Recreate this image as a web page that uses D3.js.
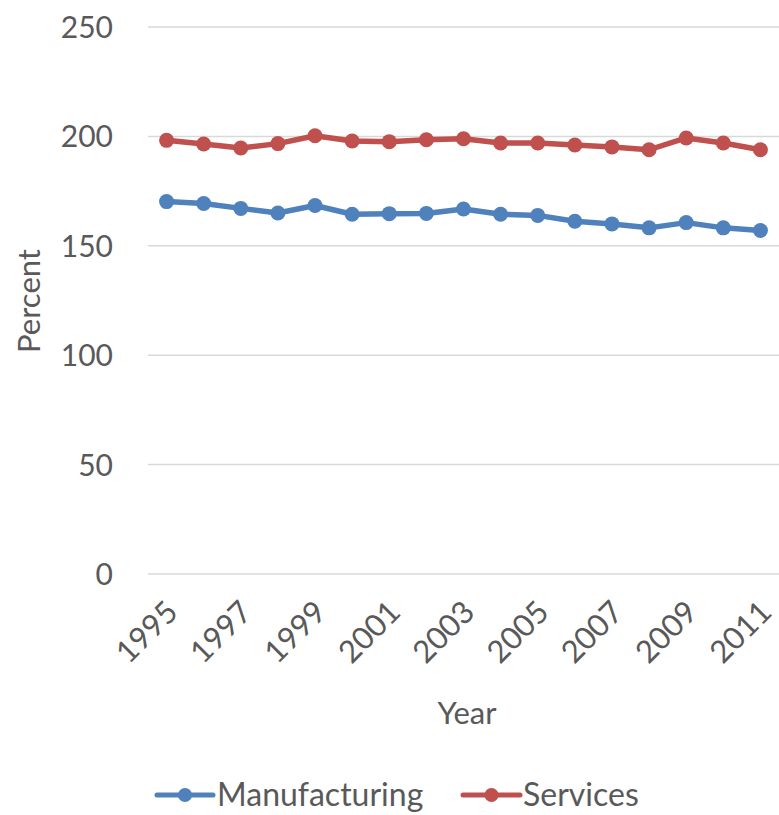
<!DOCTYPE html>
<html>
<head>
<meta charset="utf-8">
<script src="https://cdn.jsdelivr.net/npm/d3@7/dist/d3.min.js"></script>
<style>
  html, body { margin: 0; padding: 0; background: #fff; }
  text { font-family: Lato, "Open Sans", sans-serif; fill: #595959; }
</style>
</head>
<body>
<svg id="chart" width="779" height="815"></svg>
<script>
const years = [1995, 1996, 1997, 1998, 1999, 2000, 2001, 2002, 2003, 2004, 2005, 2006, 2007, 2008, 2009, 2010, 2011];
const manufacturing = [170.2, 169.3, 167.1, 165.0, 168.4, 164.4, 164.7, 164.8, 166.8, 164.4, 163.9, 161.2, 160.0, 158.2, 160.6, 158.2, 157.0];
const services = [198.2, 196.5, 194.7, 196.7, 200.3, 197.9, 197.6, 198.5, 198.9, 197.0, 197.0, 196.1, 195.2, 193.9, 199.3, 197.0, 193.9];
const yTicks = [0, 50, 100, 150, 200, 250];
const xTickYears = [1995, 1997, 1999, 2001, 2003, 2005, 2007, 2009, 2011];
const seriesNames = ["Manufacturing", "Services"];
const seriesColors = ["#4F81BD", "#C0504D"];

const svg = d3.select("#chart");
const plot = { left: 148, right: 779, top: 27, bottom: 574 };

const x = d3.scaleBand().domain(years).range([plot.left, plot.right]).padding(0);
const cx = d => x(d) + x.bandwidth() / 2;
const y = d3.scaleLinear().domain([0, 250]).range([plot.bottom, plot.top]);

// horizontal gridlines
svg.append("g").selectAll("line").data(yTicks).join("line")
  .attr("x1", plot.left).attr("x2", plot.right)
  .attr("y1", d => y(d)).attr("y2", d => y(d))
  .attr("stroke", "#d9d9d9").attr("stroke-width", 1.5);

// y axis tick labels
const yAxis = d3.axisLeft(y).tickValues(yTicks).tickSize(0).tickPadding(0);
const gy = svg.append("g").attr("transform", "translate(113,0)").call(yAxis);
gy.select(".domain").remove();
gy.selectAll("text").style("font-size", "30px").attr("dy", "0.35em")
  .style("font-family", "Lato, 'Open Sans', sans-serif").style("fill", "#595959");

// x axis tick labels, rotated
const xAxis = d3.axisBottom(d3.scalePoint().domain(years).range([cx(years[0]), cx(years[years.length - 1])]))
  .tickValues(xTickYears).tickSize(0).tickPadding(0);
const gx = svg.append("g").attr("transform", `translate(-5,${plot.bottom + 27})`).call(xAxis);
gx.select(".domain").remove();
gx.selectAll("text")
  .style("font-size", "31px").style("font-family", "Lato, 'Open Sans', sans-serif").style("fill", "#595959")
  .attr("text-anchor", "end").attr("dy", "0.7em").attr("dx", "0.1em")
  .attr("transform", "rotate(-45)");

// axis titles
svg.append("text").attr("x", 467).attr("y", 724).attr("text-anchor", "middle")
  .style("font-size", "31px").text("Year");
svg.append("text").attr("transform", "translate(40,301) rotate(-90)").attr("text-anchor", "middle")
  .style("font-size", "31px").text("Percent");

// series lines and markers
const data = [manufacturing, services];
const line = d3.line().x((d, i) => cx(years[i])).y(d => y(d));
data.forEach((vals, s) => {
  svg.append("path").datum(vals).attr("d", line)
    .attr("fill", "none").attr("stroke", seriesColors[s]).attr("stroke-width", 5.5)
    .attr("stroke-linejoin", "round").attr("stroke-linecap", "round");
  svg.append("g").selectAll("circle").data(vals).join("circle")
    .attr("cx", (d, i) => cx(years[i])).attr("cy", d => y(d)).attr("r", 7.5)
    .attr("fill", seriesColors[s]);
});

// legend
const legendItems = [{ x0: 157, x1: 213, tx: 217 }, { x0: 463, x1: 520, tx: 523 }];
legendItems.forEach((it, s) => {
  const g = svg.append("g");
  g.append("line").attr("x1", it.x0).attr("x2", it.x1).attr("y1", 795).attr("y2", 795)
    .attr("stroke", seriesColors[s]).attr("stroke-width", 5).attr("stroke-linecap", "round");
  g.append("circle").attr("cx", (it.x0 + it.x1) / 2).attr("cy", 795).attr("r", 7).attr("fill", seriesColors[s]);
  g.append("text").attr("x", it.tx).attr("y", 806).style("font-size", "32px").text(seriesNames[s]);
});
</script>
</body>
</html>
